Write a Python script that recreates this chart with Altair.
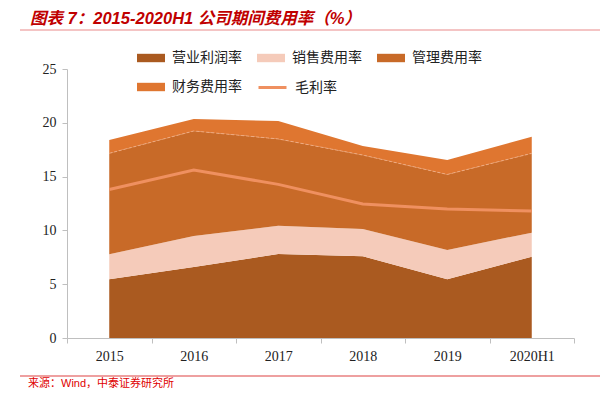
import altair as alt
import pandas as pd

years = ["2015", "2016", "2017", "2018", "2019", "2020H1"]
operating = [5.45, 6.6, 7.8, 7.6, 5.45, 7.55]
sales = [2.33, 2.88, 2.64, 2.53, 2.73, 2.24]
admin = [9.38, 9.76, 8.06, 6.87, 7.02, 7.37]
finance = [1.24, 1.11, 1.67, 0.84, 1.34, 1.54]
gross = [13.8, 15.6, 14.28, 12.45, 11.99, 11.8]

series_names = ["营业利润率", "销售费用率", "管理费用率", "财务费用率"]
series_colors = ["#AA5A20", "#F5CBBA", "#C86A28", "#DF7630"]
line_name = "毛利率"
line_color = "#EF9060"

rows = []
for si, (name, vals) in enumerate(zip(series_names, [operating, sales, admin, finance])):
    for i, v in enumerate(vals):
        rows.append({"idx": i, "year": years[i], "series": name, "order": si, "value": v})
area_df = pd.DataFrame(rows)
line_df = pd.DataFrame({"idx": list(range(len(years))), "year": years, "series": line_name, "value": gross})
# boundary between 管理费用率 and 财务费用率 (thin light seam, as in the reference)
seam_df = pd.DataFrame({
    "idx": list(range(len(years))),
    "value": [o + s + a for o, s, a in zip(operating, sales, admin)],
})

# the grid legend places entries column-wise; this order shows them row-wise as in the reference
legend_values = [series_names[0], series_names[2], series_names[1], series_names[3]]

W, H = 507, 269
label_expr = "datum.value < 5 ? " + str(years).replace(" ", "") + "[round(datum.value + 0.5)] : ''"

xscale = alt.Scale(domain=[-0.5, 5.5], nice=False, zero=False)
xaxis = alt.Axis(
    values=[-0.5, 0.5, 1.5, 2.5, 3.5, 4.5, 5.5],
    labelExpr=label_expr,
    labelOffset=W / 12,
    labelFlush=False,
    labelOverlap=False,
    title=None,
    grid=False,
    domainColor="#BFBFBF",
    tickColor="#BFBFBF",
    tickSize=5,
    labelFont="Liberation Serif",
    labelFontSize=14,
    labelColor="#222222",
    labelPadding=6,
)
yaxis = alt.Axis(
    values=[0, 5, 10, 15, 20, 25],
    title=None,
    grid=False,
    domainColor="#BFBFBF",
    tickColor="#BFBFBF",
    tickSize=5,
    labelFont="Liberation Serif",
    labelFontSize=14,
    labelColor="#222222",
    labelPadding=6,
)
yscale = alt.Scale(domain=[0, 25], nice=False)

areas = alt.Chart(area_df).mark_area(opacity=1, interpolate="linear").encode(
    x=alt.X("idx:Q", scale=xscale, axis=xaxis),
    y=alt.Y("value:Q", stack="zero", scale=yscale, axis=yaxis),
    fill=alt.Fill(
        "series:N",
        scale=alt.Scale(domain=series_names, range=series_colors),
        sort=series_names,
        legend=alt.Legend(
            title=None,
            orient="none",
            legendX=70,
            legendY=-25,
            columns=3,
            values=legend_values,
            symbolType="M-1,-0.3H1V0.3H-1Z",
            symbolSize=784,
            symbolStrokeWidth=0,
            symbolOpacity=1,
            labelFont="Noto Sans CJK SC",
            labelFontSize=14,
            labelColor="#222222",
            labelOffset=7,
            columnPadding=15,
            rowPadding=8,
        ),
    ),
    order=alt.Order("order:Q"),
)

seam = alt.Chart(seam_df).mark_line(
    color="#F2B08A", strokeWidth=1, strokeDash=[3, 2], opacity=0.8
).encode(
    x=alt.X("idx:Q", scale=xscale),
    y=alt.Y("value:Q", scale=yscale),
)

gline = alt.Chart(line_df).mark_line(strokeWidth=3).encode(
    x=alt.X("idx:Q", scale=xscale),
    y=alt.Y("value:Q", scale=yscale),
    stroke=alt.Stroke(
        "series:N",
        scale=alt.Scale(domain=[line_name], range=[line_color]),
        legend=alt.Legend(
            title=None,
            orient="none",
            legendX=190,
            legendY=3,
            symbolType="stroke",
            symbolSize=784,
            symbolStrokeWidth=3,
            labelFont="Noto Sans CJK SC",
            labelFontSize=14,
            labelColor="#222222",
            labelOffset=7,
        ),
    ),
)

deco = pd.DataFrame({"k": [0]})
top_rule = alt.Chart(deco).mark_rule(color="#CC0000", strokeWidth=2.5).encode(
    x=alt.value(-47), x2=alt.value(533), y=alt.value(-63.5)
)
title_rule = alt.Chart(deco).mark_rule(color="#F4C4C4", strokeWidth=2).encode(
    x=alt.value(-47), x2=alt.value(533), y=alt.value(-39)
)
bottom_rule = alt.Chart(deco).mark_rule(color="#E88080", strokeWidth=1.5).encode(
    x=alt.value(-47), x2=alt.value(533), y=alt.value(307)
)
title_text = alt.Chart(deco).mark_text(
    text="图表 7：2015-2020H1 公司期间费用率（%）",
    font="Liberation Sans, Noto Sans CJK SC",
    fontSize=16.5,
    fontWeight="bold",
    fontStyle="italic",
    color="#C00000",
    align="left",
    baseline="alphabetic",
).encode(x=alt.value(-37), y=alt.value(-45))
source_text = alt.Chart(deco).mark_text(
    text="来源：Wind，中泰证券研究所",
    font="Liberation Sans, Noto Sans CJK SC",
    fontSize=11,
    color="#E00000",
    align="left",
    baseline="alphabetic",
).encode(x=alt.value(-39), y=alt.value(318))

chart = alt.layer(
    areas, seam, gline, top_rule, title_rule, bottom_rule, title_text, source_text
).resolve_scale(
    fill="independent", stroke="independent"
).properties(
    width=W,
    height=H,
    autosize=alt.AutoSizeParams(type="none"),
    padding={"left": 59, "top": 61, "right": 34, "bottom": 51},
).configure_view(stroke=None)

chart.save("out.html", embed_options={"renderer": "svg", "actions": False})
